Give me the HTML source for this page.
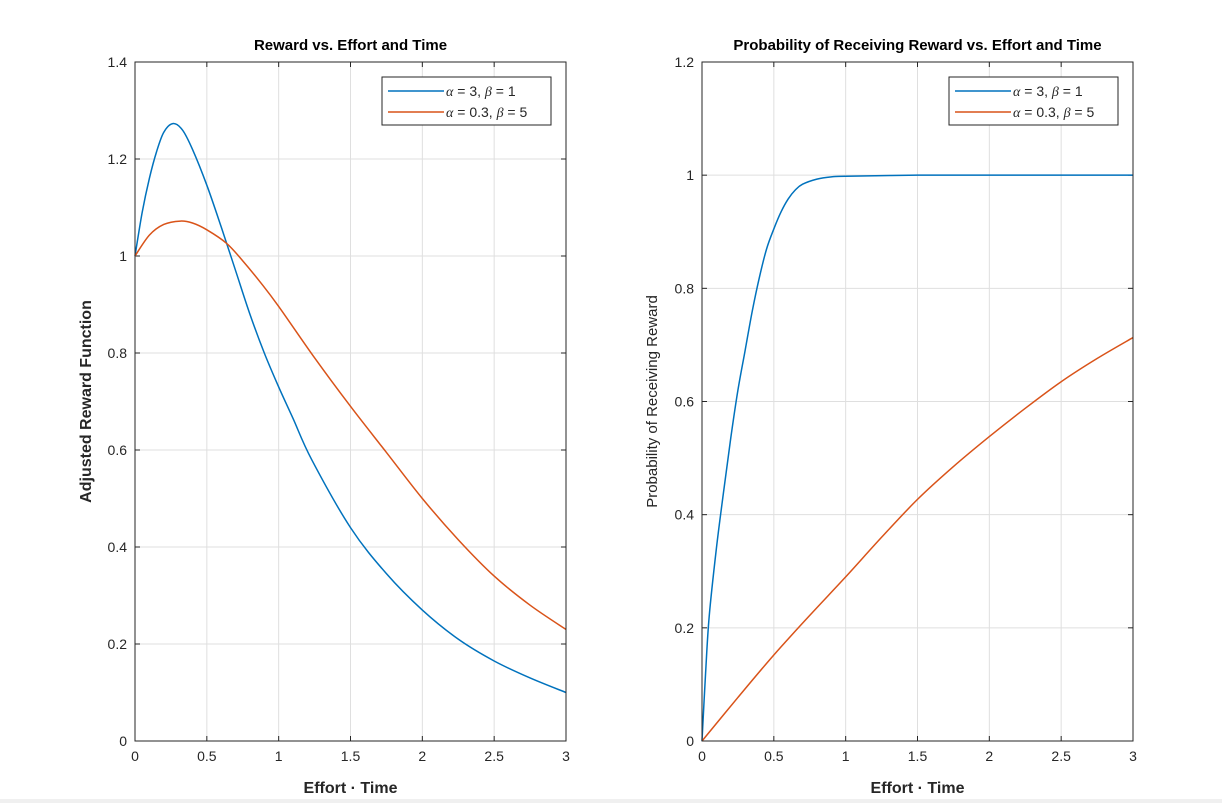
<!DOCTYPE html>
<html><head><meta charset="utf-8"><style>
html,body{margin:0;padding:0;background:#fff;}
svg{display:block;font-family:"Liberation Sans",Arial,sans-serif;}
</style></head><body>
<svg id="fig" width="1222" height="803" viewBox="0 0 1222 803">
<rect x="0" y="0" width="1222" height="803" fill="#fff"/>
<rect x="0" y="799" width="1222" height="4" fill="#f0f0f0"/>
</svg>
<script>
const xTicks=[0,0.5,1,1.5,2,2.5,3];
const xTickLabels=["0","0.5","1","1.5","2","2.5","3"];
const leftYTicks=[0,0.2,0.4,0.6,0.8,1,1.2,1.4];
const leftYTickLabels=["0","0.2","0.4","0.6","0.8","1","1.2","1.4"];
const rightYTicks=[0,0.2,0.4,0.6,0.8,1,1.2];
const rightYTickLabels=["0","0.2","0.4","0.6","0.8","1","1.2"];
const rewardBlueX=[0,0.05,0.1,0.15,0.2,0.263,0.33,0.4,0.5,0.6,0.7,0.8,0.9,1,1.1,1.23,1.5,1.75,2,2.25,2.5,2.75,3];
const rewardBlueY=[1.0,1.09,1.16,1.215,1.255,1.273,1.26,1.22,1.146,1.06,0.97,0.88,0.80,0.73,0.665,0.58,0.44,0.345,0.27,0.21,0.165,0.13,0.10];
const rewardOrangeX=[0,0.1,0.2,0.316,0.4,0.5,0.638,0.75,0.875,1,1.25,1.5,1.75,2,2.25,2.5,2.75,3];
const rewardOrangeY=[1.0,1.043,1.065,1.072,1.068,1.054,1.026,0.99,0.945,0.896,0.79,0.69,0.595,0.50,0.415,0.34,0.28,0.23];
const probBlueX=[0,0.025,0.05,0.1,0.15,0.2,0.25,0.3,0.35,0.4,0.45,0.5,0.55,0.6,0.65,0.7,0.8,0.9,1,1.5,2,2.5,3];
const probBlueY=[0,0.12,0.22,0.34,0.44,0.535,0.62,0.69,0.76,0.82,0.87,0.905,0.935,0.958,0.974,0.984,0.993,0.997,0.998,1,1,1,1];
const probOrangeX=[0,0.25,0.5,0.75,1,1.25,1.5,1.75,2,2.25,2.5,2.75,3];
const probOrangeY=[0,0.077,0.152,0.222,0.29,0.36,0.427,0.485,0.538,0.588,0.635,0.676,0.713];

const NS="http://www.w3.org/2000/svg";
const svg=document.getElementById('fig');
function el(tag,attrs,parent){const e=document.createElementNS(NS,tag);for(const k in attrs)e.setAttribute(k,attrs[k]);(parent||svg).appendChild(e);return e;}
function smooth(pts){let d="M"+pts[0][0]+","+pts[0][1];for(let i=0;i<pts.length-1;i++){const p0=pts[i-1]||pts[i],p1=pts[i],p2=pts[i+1],p3=pts[i+2]||p2;const c1=[p1[0]+(p2[0]-p0[0])/6,p1[1]+(p2[1]-p0[1])/6],c2=[p2[0]-(p3[0]-p1[0])/6,p2[1]-(p3[1]-p1[1])/6];d+=" C"+c1[0].toFixed(2)+","+c1[1].toFixed(2)+" "+c2[0].toFixed(2)+","+c2[1].toFixed(2)+" "+p2[0].toFixed(2)+","+p2[1].toFixed(2);}return d;}

function panel(cfg){
  const g=el('g',{});
  
  
  const L=cfg.x0,R=cfg.x1,T=62,B=741;
  const sx=v=>L+(v-0)/(3-0)*(R-L);
  const sy=v=>B-(v/cfg.ymax)*(B-T);
  el('rect',{x:L,y:T,width:R-L,height:B-T,fill:'#fff'},g);
  xTicks.forEach((t,i)=>{
    const gl=el('line',{x1:sx(t),x2:sx(t),y1:T,y2:B,stroke:'#dfdfdf','stroke-width':1},g);
    
    el('line',{x1:sx(t),x2:sx(t),y1:B,y2:B-5,stroke:'#262626'},g);
    el('line',{x1:sx(t),x2:sx(t),y1:T,y2:T+5,stroke:'#262626'},g);
    const tx=el('text',{x:sx(t),y:B+20,'font-size':14,fill:'#262626','text-anchor':'middle'},g);
    tx.textContent=xTickLabels[i];
    
  });
  cfg.yt.forEach((t,i)=>{
    const gl=el('line',{x1:L,x2:R,y1:sy(t),y2:sy(t),stroke:'#dfdfdf','stroke-width':1},g);
    
    el('line',{x1:L,x2:L+5,y1:sy(t),y2:sy(t),stroke:'#262626'},g);
    el('line',{x1:R,x2:R-5,y1:sy(t),y2:sy(t),stroke:'#262626'},g);
    const tx=el('text',{x:L-8,y:sy(t)+5,'font-size':14,fill:'#262626','text-anchor':'end'},g);
    tx.textContent=cfg.ytl[i];
    
  });
  const s1=el('path',{d:smooth(cfg.bx.map((x,i)=>[sx(x),sy(cfg.by[i])])),fill:'none',stroke:'#0072bd','stroke-width':1.5},g);
  
  const s2=el('path',{d:smooth(cfg.ox.map((x,i)=>[sx(x),sy(cfg.oy[i])])),fill:'none',stroke:'#d95319','stroke-width':1.5},g);
  
  el('rect',{x:L,y:T,width:R-L,height:B-T,fill:'none',stroke:'#262626','stroke-width':1},g);
  const ti=el('text',{x:(L+R)/2,y:50,'font-size':15,'font-weight':'bold','text-anchor':'middle',fill:'#000'},g);
  ti.textContent=cfg.title;
  const xl=el('text',{x:(L+R)/2,y:793,'font-size':16,'font-weight':'bold','text-anchor':'middle',fill:'#262626'},g);
  xl.textContent="Effort · Time";
  const yl=el('text',{x:0,y:0,'font-size':cfg.ylSize,'font-weight':cfg.ylBold?'bold':'normal','text-anchor':'middle',fill:'#262626',transform:`translate(${cfg.ylx},${(T+B)/2}) rotate(-90)`},g);
  yl.textContent=cfg.ylabel;
  const lg=el('g',{},g);
  const lx=R-184,ly=77;
  el('rect',{x:lx,y:ly,width:169,height:48,fill:'#fff',stroke:'#262626','stroke-width':1},lg);
  [['#0072bd','3','1'],['#d95319','0.3','5']].forEach((e,i)=>{
    const y=ly+14+i*21;
    const ent=el('g',{},lg);
    el('line',{x1:lx+6,x2:lx+62,y1:y,y2:y,stroke:e[0],'stroke-width':1.5},ent);
    const t=el('text',{x:lx+64,y:y+5,'font-size':14,fill:'#262626'},ent);
    t.innerHTML=`<tspan font-family="Liberation Serif" font-style="italic">α</tspan> = ${e[1]},  <tspan font-family="Liberation Serif" font-style="italic">β</tspan> = ${e[2]}`;
  });
}
panel({name:'reward-panel',x0:135,x1:566,ymax:1.4,yt:leftYTicks,ytl:leftYTickLabels,bx:rewardBlueX,by:rewardBlueY,ox:rewardOrangeX,oy:rewardOrangeY,title:"Reward vs. Effort and Time",ylabel:"Adjusted Reward Function",ylx:91,ylSize:16,ylBold:true});
panel({name:'probability-panel',x0:702,x1:1133,ymax:1.2,yt:rightYTicks,ytl:rightYTickLabels,bx:probBlueX,by:probBlueY,ox:probOrangeX,oy:probOrangeY,title:"Probability of Receiving Reward vs. Effort and Time",ylabel:"Probability of Receiving Reward",ylx:657,ylSize:15,ylBold:false});
</script>
</body></html>
